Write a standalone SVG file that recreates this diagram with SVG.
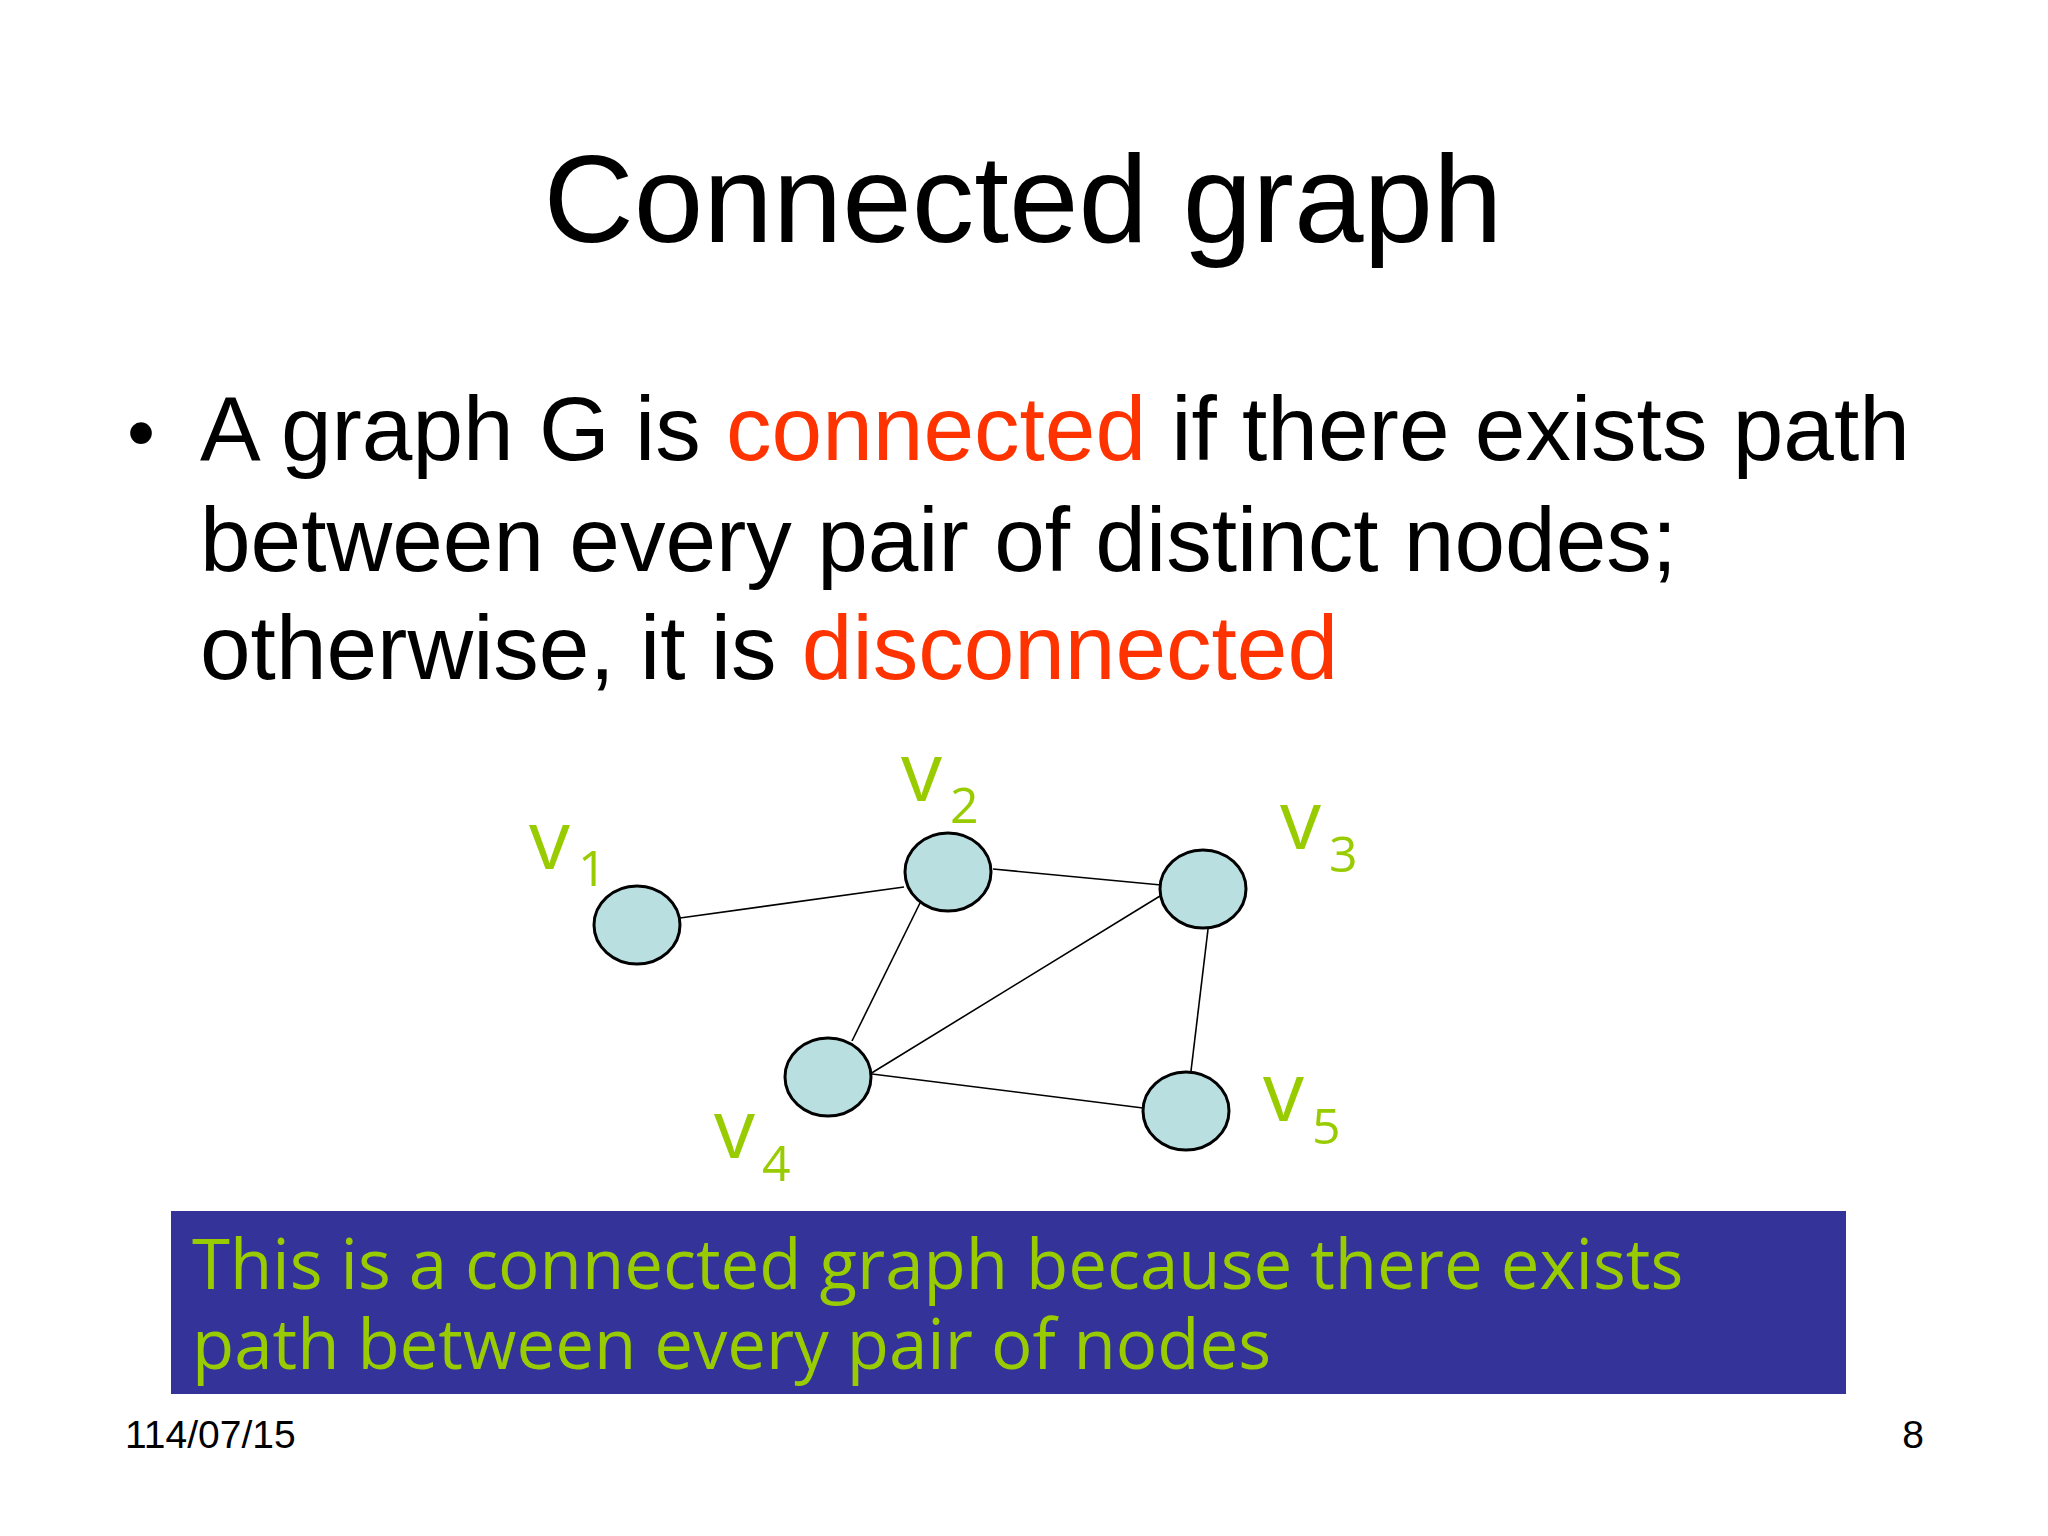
<svg xmlns="http://www.w3.org/2000/svg" width="2048" height="1536" viewBox="0 0 2048 1536">
<style>
.a{font-family:"Liberation Sans",Arial,sans-serif;fill:#000}
.r{fill:#ff3300}
.g{font-family:"Open Sans","Noto Sans",sans-serif;fill:#99cc00}
.n{fill:#b9dfe1;stroke:#000;stroke-width:3}
.e{stroke:#000;stroke-width:1.6}
</style>
<rect width="2048" height="1536" fill="#fff"/>
<text class="a" x="1023" y="242" font-size="125" text-anchor="middle">Connected graph</text>
<text class="a" x="127" y="460" font-size="80">•</text>
<text class="a" font-size="91"><tspan x="200" y="460">A graph G is <tspan class="r">connected</tspan> if there exists path</tspan><tspan x="200" y="571">between every pair of distinct nodes;</tspan><tspan x="200" y="679">otherwise, it is <tspan class="r">disconnected</tspan></tspan></text>
<g id="edges">
<line class="e" x1="680" y1="918" x2="904" y2="887"/>
<line class="e" x1="993" y1="869" x2="1161" y2="885"/>
<line class="e" x1="921" y1="901" x2="852" y2="1041"/>
<line class="e" x1="1160" y1="896" x2="870" y2="1074"/>
<line class="e" x1="1209" y1="921" x2="1191" y2="1071"/>
<line class="e" x1="872" y1="1074" x2="1143" y2="1108"/>
</g>
<g id="v1"><ellipse class="n" cx="637" cy="925" rx="43" ry="39"/><text class="g" x="529" y="869" font-size="82">v</text><text class="g" x="578" y="886" font-size="50">1</text></g>
<g id="v2"><ellipse class="n" cx="948" cy="872" rx="43" ry="39"/><text class="g" x="901" y="801" font-size="82">v</text><text class="g" x="950" y="823" font-size="50">2</text></g>
<g id="v3"><ellipse class="n" cx="1203" cy="889" rx="43" ry="39"/><text class="g" x="1280" y="849" font-size="82">v</text><text class="g" x="1329" y="872" font-size="50">3</text></g>
<g id="v4"><ellipse class="n" cx="828" cy="1077" rx="43" ry="39"/><text class="g" x="714" y="1158" font-size="82">v</text><text class="g" x="762" y="1181" font-size="50">4</text></g>
<g id="v5"><ellipse class="n" cx="1186" cy="1111" rx="43" ry="39"/><text class="g" x="1263" y="1121" font-size="82">v</text><text class="g" x="1312" y="1144" font-size="50">5</text></g>
<g id="note"><rect x="171" y="1211" width="1675" height="183" fill="#333399"/>
<text class="g" font-size="69"><tspan x="192" y="1289">This is a connected graph because there exists</tspan><tspan x="192" y="1369">path between every pair of nodes</tspan></text></g>
<text class="a" x="125" y="1448" font-size="39">114/07/15</text>
<text class="a" x="1924" y="1448" font-size="39" text-anchor="end">8</text>
</svg>
